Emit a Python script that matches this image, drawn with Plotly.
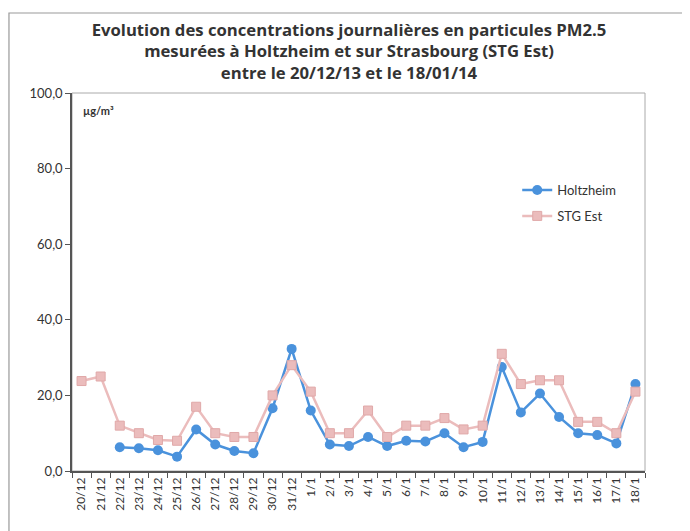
import plotly.graph_objects as go

dates = ["20/12", "21/12", "22/12", "23/12", "24/12", "25/12", "26/12", "27/12", "28/12", "29/12",
         "30/12", "31/12", "1/1", "2/1", "3/1", "4/1", "5/1", "6/1", "7/1", "8/1",
         "9/1", "10/1", "11/1", "12/1", "13/1", "14/1", "15/1", "16/1", "17/1", "18/1"]
holtzheim = [None, None, 6.3, 6.0, 5.5, 3.8, 11.0, 7.0, 5.3, 4.7,
             16.6, 32.3, 16.0, 7.0, 6.6, 9.0, 6.6, 8.0, 7.8, 10.0,
             6.3, 7.7, 27.5, 15.5, 20.5, 14.3, 10.0, 9.5, 7.3, 23.0]
stg_est = [23.8, 25.0, 12.0, 10.0, 8.2, 8.0, 17.0, 10.0, 9.0, 9.0,
           20.0, 28.0, 21.0, 10.0, 10.0, 16.0, 9.0, 12.0, 12.0, 14.0,
           11.0, 12.0, 31.0, 23.0, 24.0, 24.0, 13.0, 13.0, 10.0, 21.0]

BLUE = "#4a92dc"
PINK = "#ebbcbc"
FONT = "Lato"
TFONT = "Open Sans"

W, H = 682, 523  # page body has an 8px margin

fig = go.Figure()
fig.add_trace(go.Scatter(
    x=dates, y=holtzheim, name="Holtzheim", mode="lines+markers",
    line=dict(color=BLUE, width=2.5),
    marker=dict(symbol="circle", size=10, color=BLUE),
    legendrank=1, legendgroup="h", connectgaps=False,
))
fig.add_trace(go.Scatter(
    x=dates, y=stg_est, name="STG Est", mode="lines+markers",
    line=dict(color=PINK, width=2.5),
    marker=dict(symbol="square", size=9, color=PINK, line=dict(color="#e0a8a8", width=1)),
    legendrank=2, legendgroup="s",
))

fig.update_layout(
    width=W, height=H,
    margin=dict(l=64, r=45, t=85, b=60),
    paper_bgcolor="white", plot_bgcolor="white",
    separators=", ",
    font=dict(family=FONT, size=12, color="#333333"),
    showlegend=True,
    legend=dict(x=0.777, y=0.783, xanchor="left", yanchor="top",
                bgcolor="rgba(0,0,0,0)", font=dict(size=13, color="#333333"),
                tracegroupgap=6),
    title=dict(
        text="<b>Evolution des concentrations journalières en particules PM2.5<br>"
             "mesurées à Holtzheim et sur Strasbourg (STG Est)<br>"
             "entre le 20/12/13 et le 18/01/14</b>",
        x=0.5, xanchor="center", y=0.947, yanchor="top",
        font=dict(family=TFONT, size=16.7, color="#333333"),
    ),
    xaxis=dict(
        type="category", tickangle=-90, tickson="boundaries",
        ticks="outside", ticklen=5, tickcolor="#555555",
        showline=True, linecolor="#555555", linewidth=1.5,
        showgrid=False, zeroline=False, automargin=False,
        tickfont=dict(size=12, color="#333333"),
        range=[-0.5, len(dates) - 0.5],
    ),
    yaxis=dict(
        range=[0, 100], dtick=20, tickformat=".1f",
        ticks="outside", ticklen=5, tickcolor="#555555",
        showline=True, linecolor="#555555", linewidth=1.5,
        showgrid=False, zeroline=False, automargin=False,
        tickfont=dict(size=13, color="#333333"),
    ),
)

# plot area border (top and right, light grey)
fig.add_shape(type="rect", xref="paper", yref="paper", x0=0, x1=1, y0=0, y1=1,
              line=dict(color="#aaaaaa", width=1), layer="below")
# outer frame
fig.add_shape(type="rect", xref="paper", yref="paper", x0=-0.110, x1=1.0716, y0=-0.16, y1=1.2116,
              line=dict(color="#999999", width=1.2), layer="below")

fig.add_annotation(text="<b>µg/m³</b>", xref="paper", yref="paper", x=0.015, y=0.975,
                   xanchor="left", yanchor="top", showarrow=False,
                   font=dict(family=FONT, size=11, color="#333333"))

fig.write_html("out.html")
